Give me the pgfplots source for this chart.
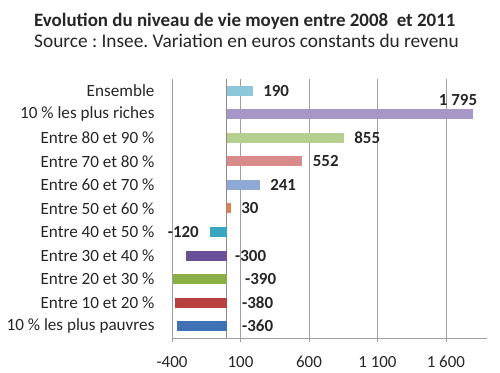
\documentclass[border=0pt]{standalone}
\usepackage{fontspec}
\setmainfont{Carlito}
\usepackage{pgfplots}
\pgfplotsset{compat=1.18}
\frenchspacing
\definecolor{c0}{HTML}{8CC8D8}
\definecolor{c1}{HTML}{A796C8}
\definecolor{c2}{HTML}{B5D08E}
\definecolor{c3}{HTML}{D98A8A}
\definecolor{c4}{HTML}{8FA9D5}
\definecolor{c5}{HTML}{E08050}
\definecolor{c6}{HTML}{3AA6C0}
\definecolor{c7}{HTML}{6A4F99}
\definecolor{c8}{HTML}{8CAF45}
\definecolor{c9}{HTML}{B8403F}
\definecolor{c10}{HTML}{3F71B5}
\begin{document}
\begin{tikzpicture}
\useasboundingbox (0,0) rectangle (500bp,373bp);
\node[font=\bfseries\fontsize{19}{20}\selectfont, text=black!85, anchor=base west, inner sep=0pt] at (34bp,346bp) {Evolution du niveau de vie moyen entre 2008~ et 2011};
\node[font=\fontsize{19.4}{20}\selectfont, text=black!85, anchor=base west, inner sep=0pt] at (34bp,325bp) {Source : Insee. Variation en euros constants du revenu};
\begin{axis}[
  at={(172bp,35bp)}, anchor=south west,
  scale only axis, width=315bp, height=259bp,
  xmin=-400, xmax=1900, ymin=-0.5, ymax=10.5,
  xbar, bar width=10bp, bar shift=0pt,
  xtick={-400,100,600,1100,1600},
  xticklabels={-400,100,600,1 100,1 600},
  ytick={0,...,10},
  yticklabels={10 \% les plus pauvres,Entre 10 et 20 \%,Entre 20 et 30 \%,Entre 30 et 40 \%,Entre 40 et 50 \%,Entre 50 et 60 \%,Entre 60 et 70 \%,Entre 70 et 80 \%,Entre 80 et 90 \%,10 \% les plus riches,Ensemble},
  y tick label style={font=\fontsize{17.2}{18}\selectfont, text=black!85, xshift=-10bp},
  x tick label style={font=\fontsize{17}{18}\selectfont, text=black!85, yshift=-11bp},
  /pgf/number format/assume math mode=true,
  xmajorgrids, major grid style={gray!75, line width=0.6pt},
  axis x line*=bottom, axis y line*=left,
  x axis line style={gray!75, line width=0.6pt, -},
  y axis line style={draw=none},
  xtick style={gray!75, line width=0.6pt},
  tick align=outside, major tick length=4bp,
  ytick style={draw=none},
  clip=false,
  every node near coord/.append style={font=\bfseries\fontsize{17}{18}\selectfont, text=black!85},
]
\draw[gray!90, line width=0.8pt] (axis cs:0,-0.5) -- (axis cs:0,10.5);
\addplot[fill=c0, draw=none, nodes near coords, nodes near coords style={anchor=west, xshift=7bp}] coordinates {(190,10)};
\addplot[fill=c1, draw=none, nodes near coords={1 795}, nodes near coords style={anchor=south east, yshift=5bp, xshift=8bp}] coordinates {(1795,9)};
\addplot[fill=c2, draw=none, nodes near coords, nodes near coords style={anchor=west, xshift=7bp}] coordinates {(855,8)};
\addplot[fill=c3, draw=none, nodes near coords, nodes near coords style={anchor=west, xshift=7bp}] coordinates {(552,7)};
\addplot[fill=c4, draw=none, nodes near coords, nodes near coords style={anchor=west, xshift=7bp}] coordinates {(241,6)};
\addplot[fill=c5, draw=none, nodes near coords, nodes near coords style={anchor=west, xshift=7bp}] coordinates {(30,5)};
\addplot[fill=c6, draw=none, nodes near coords={-120}, nodes near coords style={anchor=east, xshift=-8bp}] coordinates {(-120,4)};
\addplot[fill=c7, draw=none] coordinates {(-300,3)};
\addplot[fill=c8, draw=none] coordinates {(-390,2)};
\addplot[fill=c9, draw=none] coordinates {(-380,1)};
\addplot[fill=c10, draw=none] coordinates {(-360,0)};
\addplot[draw=none, fill=none, nodes near coords, point meta=explicit symbolic,
  nodes near coords style={anchor=west, inner xsep=0pt}]
  table[meta=lab] {
x y lab
60 3 -300
133 2 -390
111 1 -380
111 0 -360
};
\end{axis}
\end{tikzpicture}
\end{document}
